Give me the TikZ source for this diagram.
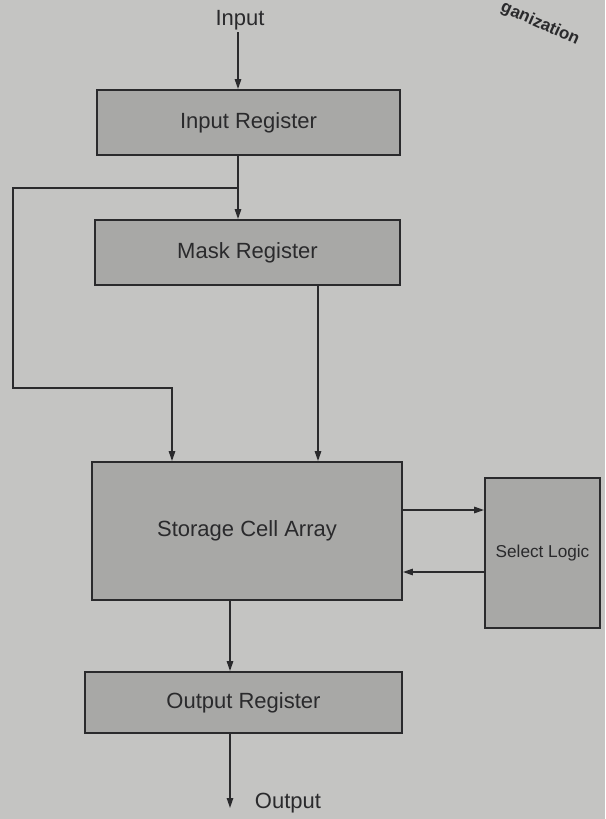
\documentclass[tikz,border=0pt]{standalone}
\usepackage{fontspec}
\setmainfont{Liberation Sans}
\usepackage{xcolor}
\usetikzlibrary{arrows.meta,positioning,calc}
\definecolor{cpaper}{RGB}{196,196,194}
\definecolor{cbox}{RGB}{168,168,166}
\definecolor{cink}{RGB}{42,42,44}

\begin{document}
\begin{tikzpicture}[
  x=0.5pt, y=-0.5pt,
  font=\fontsize{11}{13}\selectfont,
  reg/.style={draw=cink, fill=cbox, line width=0.9pt, inner sep=0pt, text=cink},
  arr/.style={-{Triangle[length=5pt, width=3.2pt]}, line width=0.8pt, cink},
  lbl/.style={text=cink, inner sep=1pt}
]
\fill[cpaper] (0,0) rectangle (605,819);
\useasboundingbox (0,0) rectangle (605,819);
% header fragment
\node[lbl, font=\fontsize{8.5}{10}\selectfont\bfseries, rotate=-24] (hdr) at (540,24) {ganization};
% registers and blocks
\node[lbl] (input) at (240,20) {Input};
\node[reg, minimum width=151.5pt, minimum height=32.5pt] (inreg) at (248.5,122.5) {Input Register};
\node[reg, minimum width=152.5pt, minimum height=32.5pt] (mask) at (247.5,252.5) {Mask Register};
\node[reg, minimum width=155pt, minimum height=69pt] (store) at (247,531) {Storage Cell Array};
\node[reg, minimum width=57.5pt, minimum height=75pt, font=\fontsize{8.6}{10}\selectfont] (sel) at (542.5,553) {Select Logic};
\node[reg, minimum width=158.5pt, minimum height=30.5pt] (outreg) at (243.5,702.5) {Output Register};
\node[lbl] (output) at (288,803) {Output};
\coordinate (split) at (238,188);
\coordinate (loop) at (13,388);
\coordinate (maskx) at (318,0);
\coordinate (outend) at (230,808);
% connectors
\draw[arr] (split |- input.south) -- (split |- inreg.north);
\draw[arr] (split |- inreg.south) -- (split |- mask.north);
\draw[arr] (split) -| (loop) -| ([xshift=-37.5pt]store.north);
\draw[arr] (maskx |- mask.south) -- (maskx |- store.north);
\draw[arr] ([yshift=10.5pt]store.east) -- ([yshift=10.5pt]store.east -| sel.west);
\draw[arr] ([yshift=-20.5pt]store.east -| sel.west) -- ([yshift=-20.5pt]store.east);
\draw[arr] ([xshift=-8.5pt]store.south) -- ([xshift=-8.5pt]store.south |- outreg.north);
\draw[arr] (outend |- outreg.south) -- (outend);
\end{tikzpicture}
\end{document}
